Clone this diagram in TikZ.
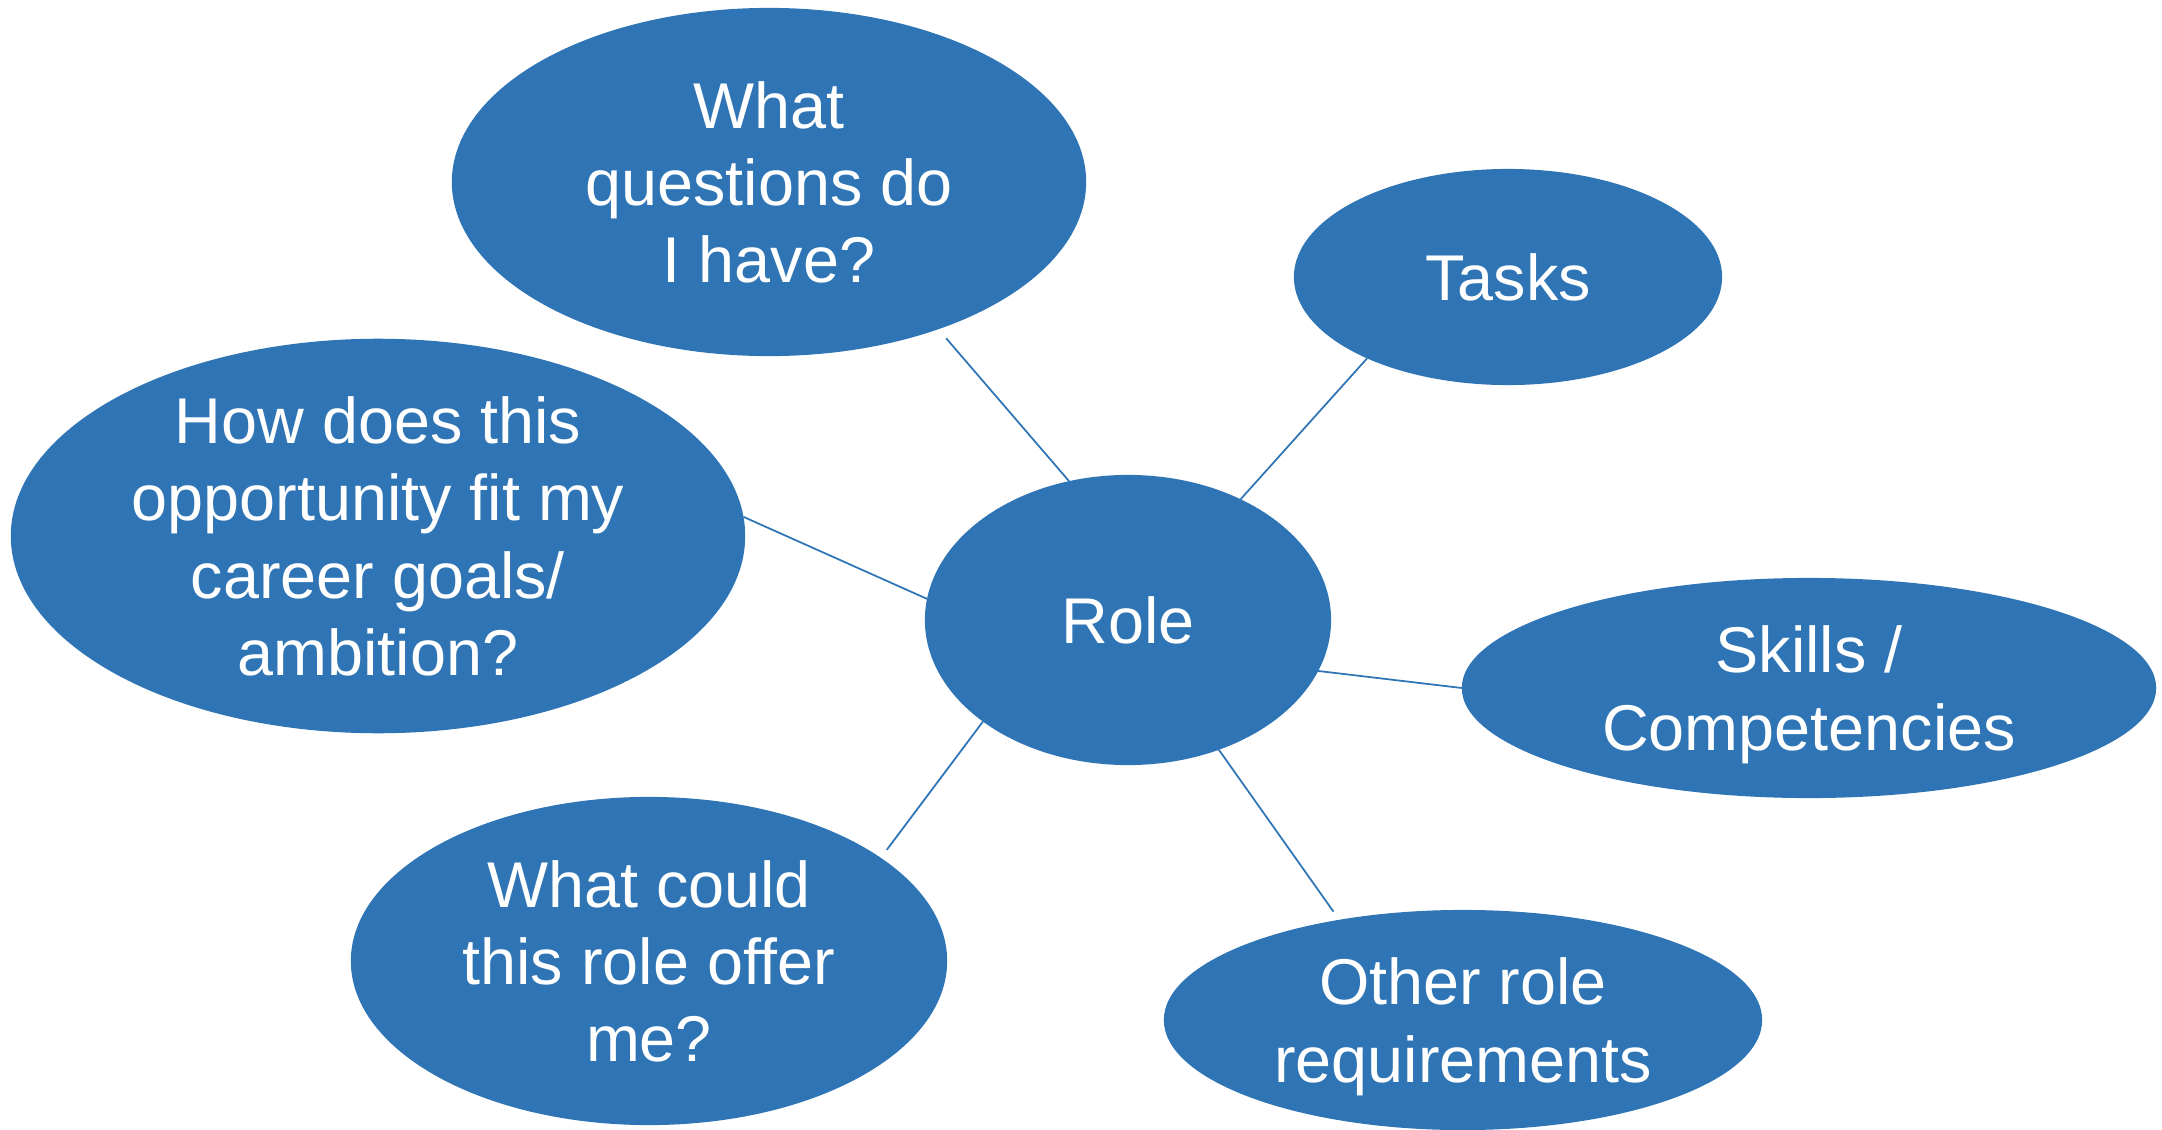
\documentclass[tikz,border=0pt]{standalone}
\usepackage{fontspec}
\setmainfont{Liberation Sans}
\usetikzlibrary{shapes.geometric}
\definecolor{bubblue}{RGB}{47,117,181}
\tikzset{bubble/.style={ellipse, fill=bubblue, text=white, inner sep=0pt, outer sep=0pt, align=center,
      text depth=0pt, font=\fontsize{18.4}{22}\selectfont}}
\tikzset{spoke/.style={draw=bubblue, line width=0.5pt}}

\begin{document}
\begin{tikzpicture}[x=0.01cm,y=-0.01cm]
		\useasboundingbox (0,0) rectangle (2162,1130);
		\node[bubble, minimum width=4.06cm, minimum height=2.90cm] (role) at (1128,620) {Role};
		\node[bubble, minimum width=6.34cm, minimum height=3.48cm] (questions) at (769,182) {What\\questions do\\I have?};
		\node[bubble, minimum width=4.28cm, minimum height=2.16cm] (tasks) at (1508,277) {Tasks};
		\node[bubble, minimum width=7.34cm, minimum height=3.72cm] (fit) at (378,536) {How does this\\opportunity fit my\\career goals/\\ambition?};
		\node[bubble, minimum width=6.94cm, minimum height=2.20cm] (skills) at (1809,688) {Skills /\\Competencies};
		\node[bubble, minimum width=5.96cm, minimum height=3.28cm] (offer) at (649,961) {What could\\this role offer\\me?};
		\node[bubble, minimum width=5.98cm, minimum height=2.20cm] (other) at (1463,1020) {Other role\\requirements};
		\draw[spoke, shorten <=-0.05cm, shorten >=0.12cm] (role.113) -- (questions.319);
		\draw[spoke] (role.47) -- (tasks.210);
		\draw[spoke] (role.174) -- (fit.3);
		\draw[spoke] (role.-15) -- (skills.180);
		\draw[spoke, shorten >=0.1cm] (role.-55) -- (other.141);
		\draw[spoke, shorten >=0.1cm] (role.215) -- (offer.24);
		\end{tikzpicture}
\end{document}
